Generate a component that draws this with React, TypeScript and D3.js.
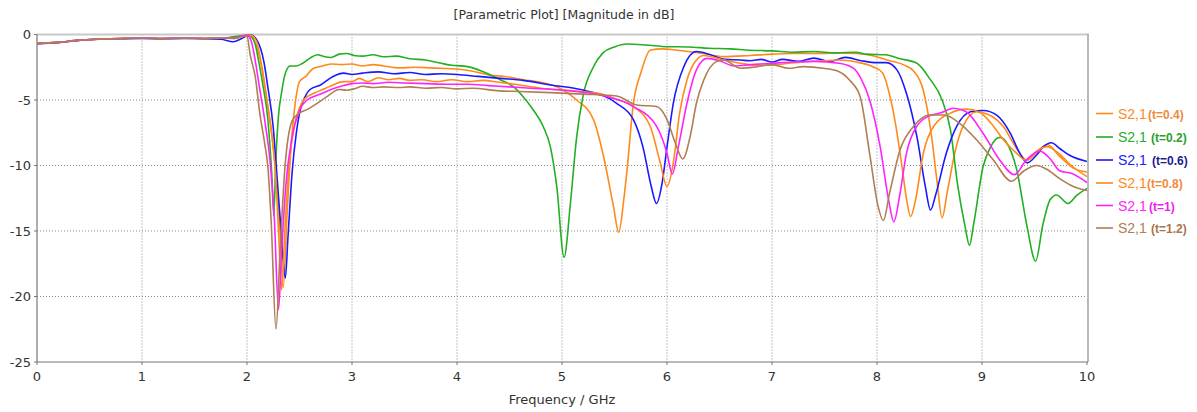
import React from "react";
import * as d3 from "d3";

type P = [number, number];

const xTicks = [0, 1, 2, 3, 4, 5, 6, 7, 8, 9, 10];
const yTicks = [0, -5, -10, -15, -20, -25];
const titleText = "[Parametric Plot] [Magnitude in dB]";
const xTitle = "Frequency / GHz";

const lowBand: P[] = [[0, -0.68], [0.2, -0.6], [0.4, -0.43], [0.6, -0.35], [0.8, -0.3], [1.0, -0.27], [1.2, -0.3], [1.4, -0.28], [1.6, -0.3], [1.75, -0.28]];

const s04: P[] = [...lowBand, [1.9, -0.22], [2.0, -0.05], [2.07, -0.5], [2.14, -2.5], [2.19, -5.1], [2.24, -7.9], [2.27, -10.2], [2.31, -14.5], [2.345, -19.3], [2.38, -14], [2.42, -8.5], [2.46, -5.2], [2.5, -3.6], [2.56, -3.2], [2.63, -2.6], [2.7, -2.45], [2.8, -2.25], [2.9, -2.3], [3.0, -2.25], [3.1, -2.4], [3.2, -2.3], [3.3, -2.4], [3.45, -2.55], [3.6, -2.5], [3.75, -2.55], [3.9, -2.6], [4.02, -2.65], [4.15, -2.8], [4.31, -3.1], [4.45, -3.2], [4.63, -3.45], [4.8, -3.65], [4.98, -4.1], [5.14, -5.0], [5.3, -6.5], [5.39, -9.1], [5.49, -13.1], [5.54, -15.1], [5.59, -12.5], [5.62, -10.3], [5.68, -5.25], [5.75, -2.96], [5.84, -1.2], [5.95, -1.1], [6.1, -1.2], [6.31, -1.4], [6.54, -1.69], [6.79, -1.6], [7.0, -1.5], [7.2, -1.45], [7.49, -1.44], [7.6, -1.4], [7.8, -1.45], [7.95, -1.6], [8.12, -2.0], [8.25, -2.3], [8.35, -2.8], [8.44, -4.24], [8.52, -7.8], [8.57, -11.1], [8.62, -14.0], [8.67, -12], [8.74, -9.07], [8.82, -7.0], [8.95, -5.9], [9.06, -6.1], [9.2, -7.0], [9.33, -8.7], [9.43, -9.6], [9.52, -9.0], [9.62, -8.4], [9.74, -9.3], [9.87, -10.2], [10, -10.5]];

const s02: P[] = [...lowBand, [1.85, -0.2], [1.95, -0.1], [2.03, -0.1], [2.08, -0.8], [2.11, -2.0], [2.15, -3.8], [2.2, -6.6], [2.235, -10.5], [2.255, -13.8], [2.275, -9.5], [2.3, -6.2], [2.33, -4.4], [2.36, -3.1], [2.41, -2.4], [2.47, -2.4], [2.53, -2.2], [2.6, -1.8], [2.67, -1.55], [2.74, -1.7], [2.8, -1.75], [2.88, -1.5], [2.95, -1.45], [3.02, -1.6], [3.1, -1.65], [3.2, -1.55], [3.3, -1.7], [3.42, -1.65], [3.55, -1.85], [3.7, -1.95], [3.85, -2.2], [3.95, -2.35], [4.1, -2.45], [4.25, -2.85], [4.41, -3.45], [4.54, -4.0], [4.63, -4.75], [4.73, -5.8], [4.82, -7.0], [4.89, -8.6], [4.95, -11.6], [5.02, -17.0], [5.08, -12.9], [5.14, -7.8], [5.2, -4.7], [5.3, -2.46], [5.39, -1.4], [5.5, -0.95], [5.62, -0.73], [5.8, -0.8], [6.0, -0.93], [6.2, -0.95], [6.4, -1.05], [6.6, -1.1], [6.79, -1.2], [7.0, -1.25], [7.2, -1.35], [7.4, -1.3], [7.6, -1.4], [7.8, -1.35], [7.9, -1.5], [8.08, -1.55], [8.22, -1.85], [8.38, -2.2], [8.5, -3.35], [8.62, -5.0], [8.7, -7.3], [8.77, -11.6], [8.84, -14.7], [8.88, -16.1], [8.92, -14.5], [9.01, -10.1], [9.08, -8.6], [9.17, -7.85], [9.23, -8.2], [9.33, -10.3], [9.43, -14.7], [9.51, -17.3], [9.58, -14.5], [9.65, -12.6], [9.71, -12.25], [9.82, -12.9], [9.9, -12.3], [10, -11.75]];

const s06: P[] = [[0, -0.7], [0.2, -0.62], [0.4, -0.45], [0.6, -0.36], [0.8, -0.32], [1.0, -0.3], [1.2, -0.33], [1.4, -0.3], [1.6, -0.32], [1.75, -0.36], [1.87, -0.55], [1.95, -0.3], [2.03, -0.02], [2.1, -0.5], [2.16, -2.05], [2.2, -4.1], [2.25, -7.1], [2.28, -10.2], [2.32, -14.5], [2.365, -18.6], [2.39, -15.5], [2.43, -10.5], [2.47, -7.5], [2.5, -6.0], [2.55, -4.8], [2.6, -4.2], [2.7, -3.85], [2.82, -3.2], [2.92, -2.95], [3.0, -3.05], [3.1, -2.95], [3.25, -2.85], [3.4, -3.0], [3.55, -2.9], [3.7, -3.05], [3.85, -3.0], [4.0, -3.05], [4.2, -3.2], [4.41, -3.35], [4.63, -3.5], [4.89, -3.85], [5.2, -4.24], [5.52, -5.25], [5.68, -6.5], [5.77, -8.56], [5.85, -11.6], [5.9, -12.9], [5.95, -11.5], [6.0, -8.6], [6.06, -5.25], [6.16, -2.46], [6.28, -1.3], [6.4, -1.5], [6.55, -1.9], [6.7, -1.95], [6.79, -2.0], [6.9, -1.9], [7.0, -2.1], [7.1, -1.9], [7.25, -2.05], [7.4, -1.8], [7.55, -2.05], [7.7, -1.75], [7.85, -2.0], [8.0, -2.15], [8.09, -2.15], [8.19, -2.7], [8.28, -4.49], [8.38, -7.8], [8.46, -11.6], [8.51, -13.4], [8.56, -12.2], [8.66, -9.07], [8.76, -7.0], [8.89, -5.9], [9.01, -5.8], [9.14, -6.15], [9.27, -7.54], [9.36, -9.07], [9.43, -9.8], [9.52, -9.2], [9.58, -8.6], [9.66, -8.26], [9.74, -8.7], [9.83, -9.2], [10, -9.7]];

const s08: P[] = [...lowBand, [1.88, -0.3], [1.97, -0.12], [2.03, -0.05], [2.09, -0.5], [2.14, -2.4], [2.19, -5.0], [2.24, -7.9], [2.27, -10.5], [2.3, -15], [2.33, -19.5], [2.36, -15], [2.4, -10], [2.45, -7], [2.5, -5.6], [2.54, -5.0], [2.66, -4.4], [2.75, -4.1], [2.82, -3.85], [2.92, -3.6], [3.0, -3.6], [3.07, -3.35], [3.15, -3.6], [3.25, -3.3], [3.35, -3.45], [3.45, -3.35], [3.55, -3.5], [3.67, -3.45], [3.8, -3.6], [3.95, -3.45], [4.1, -3.6], [4.25, -3.5], [4.4, -3.65], [4.55, -3.8], [4.8, -4.1], [5.1, -4.3], [5.36, -4.5], [5.5, -4.9], [5.68, -5.5], [5.84, -7.0], [5.93, -9.6], [6.0, -11.6], [6.06, -9.8], [6.12, -6.0], [6.19, -3.47], [6.28, -1.95], [6.35, -1.6], [6.54, -1.95], [6.7, -2.2], [6.85, -2.35], [7.0, -2.33], [7.16, -2.2], [7.32, -2.07], [7.5, -2.0], [7.64, -1.95], [7.8, -2.1], [7.96, -2.46], [8.05, -2.9], [8.12, -4.6], [8.18, -7.0], [8.24, -10.2], [8.28, -12.5], [8.32, -13.9], [8.37, -12.5], [8.44, -9.1], [8.54, -7.0], [8.7, -6.0], [8.85, -5.7], [8.98, -5.95], [9.1, -6.9], [9.2, -8.0], [9.33, -9.07], [9.42, -9.6], [9.52, -8.9], [9.62, -8.56], [9.72, -9.0], [9.85, -10.0], [10, -10.85]];

const s10: P[] = [...lowBand, [1.88, -0.28], [1.95, -0.1], [2.0, -0.05], [2.04, -0.5], [2.08, -2.05], [2.12, -4.1], [2.17, -6.6], [2.22, -9.7], [2.26, -14], [2.3, -21.0], [2.33, -16.5], [2.37, -11.5], [2.43, -7.8], [2.5, -5.8], [2.57, -5.0], [2.7, -4.55], [2.8, -4.2], [2.92, -3.9], [3.0, -3.75], [3.1, -3.7], [3.2, -3.75], [3.35, -3.65], [3.5, -3.7], [3.7, -3.75], [3.9, -3.8], [4.1, -3.8], [4.3, -3.9], [4.5, -4.0], [4.7, -4.1], [5.0, -4.25], [5.36, -4.62], [5.68, -5.5], [5.9, -7.0], [6.0, -9.07], [6.05, -10.65], [6.11, -8.5], [6.19, -5.25], [6.28, -2.7], [6.38, -1.82], [6.5, -2.0], [6.64, -2.4], [6.8, -2.3], [7.0, -2.2], [7.2, -2.1], [7.4, -2.05], [7.64, -2.2], [7.78, -2.6], [7.85, -3.4], [7.93, -5.0], [8.03, -8.56], [8.11, -12.6], [8.16, -14.3], [8.22, -12.1], [8.28, -9.1], [8.38, -7.0], [8.5, -6.2], [8.6, -6.0], [8.73, -5.63], [8.85, -5.9], [9.01, -7.54], [9.17, -9.6], [9.31, -10.7], [9.42, -9.6], [9.55, -8.9], [9.65, -9.5], [9.74, -10.4], [9.85, -10.6], [10, -11.3]];

const s12: P[] = [...lowBand, [1.88, -0.3], [1.95, -0.15], [2.0, -0.1], [2.03, -1.54], [2.08, -3.3], [2.12, -5.9], [2.17, -8.4], [2.2, -10.2], [2.23, -14.2], [2.276, -22.5], [2.314, -16.7], [2.36, -10.3], [2.43, -6.6], [2.5, -6.0], [2.58, -5.7], [2.66, -5.3], [2.75, -4.8], [2.88, -4.2], [2.95, -4.25], [3.02, -4.15], [3.1, -3.95], [3.2, -4.05], [3.3, -4.0], [3.45, -4.05], [3.55, -4.0], [3.7, -4.1], [3.85, -4.05], [4.0, -4.15], [4.15, -4.1], [4.4, -4.3], [4.6, -4.35], [4.89, -4.44], [5.2, -4.55], [5.52, -4.69], [5.71, -5.38], [5.9, -5.5], [6.0, -6.5], [6.08, -8.3], [6.15, -9.5], [6.22, -7.8], [6.28, -5.25], [6.35, -3.47], [6.47, -2.07], [6.54, -1.95], [6.7, -2.58], [6.86, -2.46], [7.0, -2.3], [7.16, -2.58], [7.3, -2.45], [7.49, -2.58], [7.64, -2.84], [7.74, -3.5], [7.84, -4.75], [7.93, -9.1], [8.01, -13.1], [8.06, -14.2], [8.12, -12.1], [8.22, -8.8], [8.35, -7.0], [8.5, -6.15], [8.64, -6.15], [8.79, -6.8], [8.95, -8.05], [9.11, -9.6], [9.28, -11.2], [9.4, -10.4], [9.52, -10.0], [9.62, -10.3], [9.74, -11.0], [9.87, -11.6], [10, -11.9]];

const seriesNames = ["S2,1", "S2,1", "S2,1", "S2,1", "S2,1", "S2,1"];
const seriesParams = ["(t=0.4)", "(t=0.2)", "(t=0.6)", "(t=0.8)", "(t=1)", "(t=1.2)"];
const seriesData = [s04, s02, s06, s08, s10, s12];
const seriesColors = ["#ff8a1c", "#22b022", "#1a1aff", "#ff8a1c", "#ff22ff", "#b07e52"];
const paramColors = ["#f08a3a", "#2aa02a", "#1c1c8c", "#f08a3a", "#ee22ee", "#a8764a"];

const W = 1197, H = 412;
const L = 37, R = 1087, T = 34.5, B = 362;
const font = "Tahoma, 'DejaVu Sans', Verdana, sans-serif";
const legendFont = "'Liberation Sans', Arial, sans-serif";

export default function App() {
  const x = d3.scaleLinear().domain([0, 10]).range([L, R]);
  const y = d3.scaleLinear().domain([-25, 0]).range([B, T]);
  const line = d3.line<P>().x(d => x(d[0])).y(d => y(d[1])).curve(d3.curveMonotoneX);
  const legendY = [113.5, 137, 160, 183, 205.5, 228];
  const paramX = [1148, 1151, 1152, 1147, 1149, 1151];

  return (
    <div style={{ position: "absolute", left: 0, top: 0 }}>
      <svg width={W} height={H} style={{ display: "block", background: "#fff" }}>
        <defs>
          <clipPath id="plotclip">
            <rect x={L} y={T - 1} width={R - L} height={B - T + 1} />
          </clipPath>
        </defs>
        <text x={564} y={19} textAnchor="middle" fontFamily={font} fontSize={12.5} fill="#333">{titleText}</text>
        {xTicks.slice(1, -1).map(t => (
          <line key={"gx" + t} x1={x(t)} x2={x(t)} y1={T} y2={B} stroke="#8a8a8a" strokeWidth={1} strokeDasharray="1,2" />
        ))}
        {yTicks.slice(1, -1).map(t => (
          <line key={"gy" + t} x1={L} x2={R} y1={y(t)} y2={y(t)} stroke="#8a8a8a" strokeWidth={1} strokeDasharray="1,2" />
        ))}
        <line x1={L} x2={R + 1} y1={T} y2={T} stroke="#c8c8c8" strokeWidth={2} />
        <line x1={R + 1} x2={R + 1} y1={T - 1} y2={B} stroke="#b8b8b8" strokeWidth={2} />
        <line x1={L} x2={L} y1={T} y2={B} stroke="#777" strokeWidth={1.2} />
        <line x1={L} x2={R + 1} y1={B} y2={B} stroke="#777" strokeWidth={1.2} />
        {yTicks.map(t => (
          <g key={"ty" + t}>
            <line x1={L - 3} x2={L} y1={y(t)} y2={y(t)} stroke="#777" />
            <text x={L - 6} y={y(t) + 4.5} textAnchor="end" fontFamily={font} fontSize={13} fill="#333">{t}</text>
          </g>
        ))}
        {xTicks.map(t => (
          <g key={"tx" + t}>
            <line x1={x(t)} x2={x(t)} y1={B} y2={B + 3} stroke="#777" />
            <text x={x(t)} y={381} textAnchor="middle" fontFamily={font} fontSize={13} fill="#333">{t}</text>
          </g>
        ))}
        <text x={562} y={404} textAnchor="middle" fontFamily={font} fontSize={13} fill="#333">{xTitle}</text>
        <g clipPath="url(#plotclip)">
          {seriesData.map((d, i) => (
            <path key={"s" + i} d={line(d) || ""} fill="none" stroke={seriesColors[i]} strokeWidth={1.6} strokeLinejoin="round" />
          ))}
        </g>
        {seriesData.map((_, i) => (
          <g key={"lg" + i}>
            <line x1={1096} x2={1113} y1={legendY[i]} y2={legendY[i]} stroke={seriesColors[i]} strokeWidth={1.6} />
            <text x={1118} y={legendY[i] + 5} fontFamily={legendFont} fontSize={14} fill={seriesColors[i]}>{seriesNames[i]}</text>
            <text x={paramX[i]} y={legendY[i] + 5} fontFamily={legendFont} fontSize={12} fontWeight="bold" fill={paramColors[i]}>{seriesParams[i]}</text>
          </g>
        ))}
      </svg>
    </div>
  );
}
